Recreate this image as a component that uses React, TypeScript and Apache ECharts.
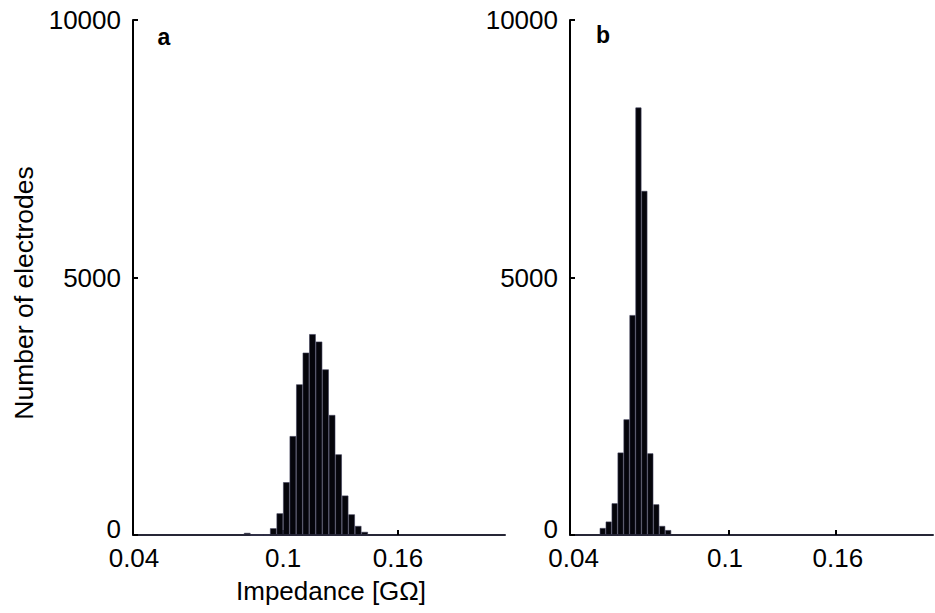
import React, { useEffect, useRef } from 'react';
import * as echarts from 'echarts';

// Shared axis content
const yMax = 10000;
const yStep = 5000;
const xTickLabels = ['0.04', '0.1', '0.16'];
const panelLabels = ['a', 'b'];
const xAxisName = 'Impedance [GΩ]';
const yAxisName = 'Number of electrodes';

// Panel a: histogram counts per bin (bin index units along the drawn axis)
const binCountA = 57;
const firstBinA = 17;
const countsA = [40, 0, 0, 0, 130, 420, 1025, 1920, 2925, 3540, 3900, 3755, 3215, 2330, 1565, 765, 400, 175, 60];
const tickBinsA = [0, 23, 40.6];
const labelBinsA = [0.15, 23, 40.6];

// Panel b
const binCountB = 61;
const firstBinB = 5;
const countsB = [135, 260, 615, 1600, 2245, 4270, 8300, 6680, 1585, 595, 175, 95];
const tickBinsB = [0, 26.7, 44.7];
const labelBinsB = [0.6, 26.05, 45.0];

const FONT = '"Liberation Sans", Arial, Helvetica, sans-serif';

export default function App() {
  const ref = useRef<HTMLDivElement>(null);

  useEffect(() => {
    if (!ref.current) return;
    const chart = echarts.init(ref.current, undefined, { renderer: 'svg' });

    const makeX = (idx: number, max: number, ticks: number[], labels: number[]) => ({
      type: 'value',
      gridIndex: idx,
      min: 0,
      max,
      axisLine: { show: true, onZero: false, lineStyle: { color: '#262636', width: 2 } },
      axisTick: {
        show: true,
        inside: true,
        length: 5,
        customValues: ticks,
        lineStyle: { color: '#000', width: 2 },
      },
      axisLabel: {
        show: true,
        customValues: labels,
        margin: 13,
        fontSize: 26,
        lineHeight: 20,
        fontFamily: FONT,
        color: '#000',
        formatter: (v: number) => {
          const i = labels.findIndex((t) => Math.abs(t - v) < 1e-6);
          return i >= 0 ? xTickLabels[i] : '';
        },
      },
      splitLine: { show: false },
    });

    const makeY = (idx: number) => ({
      type: 'value',
      gridIndex: idx,
      min: 0,
      max: yMax,
      interval: yStep,
      axisLine: { show: true, lineStyle: { color: '#000', width: 2 } },
      axisTick: { show: true, inside: true, length: 5, lineStyle: { color: '#000', width: 2 } },
      axisLabel: {
        margin: 12,
        fontSize: 26,
        lineHeight: 20,
        fontFamily: FONT,
        color: '#000',
        formatter: (v: number) => (v === 0 ? '{z|0}' : String(v)),
        rich: {
          z: { fontSize: 26, lineHeight: 20, fontFamily: FONT, color: '#000', padding: [0, 0, 12, 0] },
        },
      },
      splitLine: { show: false },
    });

    const barStyle = {
      color: '#05050b',
      borderColor: '#3c3c58',
      borderWidth: 0.6,
    };

    chart.setOption({
      animation: false,
      backgroundColor: '#ffffff',
      grid: [
        { left: 133, top: 20, width: 372, height: 515 },
        { left: 570, top: 20, width: 363, height: 515 },
      ],
      xAxis: [makeX(0, binCountA, tickBinsA, labelBinsA), makeX(1, binCountB, tickBinsB, labelBinsB)],
      yAxis: [makeY(0), makeY(1)],
      series: [
        {
          type: 'bar',
          xAxisIndex: 0,
          yAxisIndex: 0,
          barWidth: '100%',
          itemStyle: barStyle,
          data: countsA.map((c, i) => [firstBinA + i + 0.5, c]),
        },
        {
          type: 'bar',
          xAxisIndex: 1,
          yAxisIndex: 1,
          barWidth: '100%',
          itemStyle: barStyle,
          data: countsB.map((c, i) => [firstBinB + i + 0.5, c]),
        },
      ],
      graphic: [
        {
          type: 'text',
          x: 331,
          y: 591,
          style: { text: xAxisName, font: `26px ${FONT}`, fill: '#000', textAlign: 'center', textVerticalAlign: 'middle' },
        },
        {
          type: 'text',
          x: 24,
          y: 293,
          rotation: Math.PI / 2,
          style: { text: yAxisName, font: `26.5px ${FONT}`, fill: '#000', textAlign: 'center', textVerticalAlign: 'middle' },
        },
        {
          type: 'text',
          x: 164,
          y: 37,
          style: { text: panelLabels[0], font: `bold 23px ${FONT}`, fill: '#000', textAlign: 'center', textVerticalAlign: 'middle' },
        },
        {
          type: 'text',
          x: 603,
          y: 35,
          style: { text: panelLabels[1], font: `bold 23px ${FONT}`, fill: '#000', textAlign: 'center', textVerticalAlign: 'middle' },
        },
      ],
    });

    return () => chart.dispose();
  }, []);

  return <div ref={ref} style={{ position: 'fixed', left: 0, top: 0, width: 935, height: 613, background: '#fff' }} />;
}
